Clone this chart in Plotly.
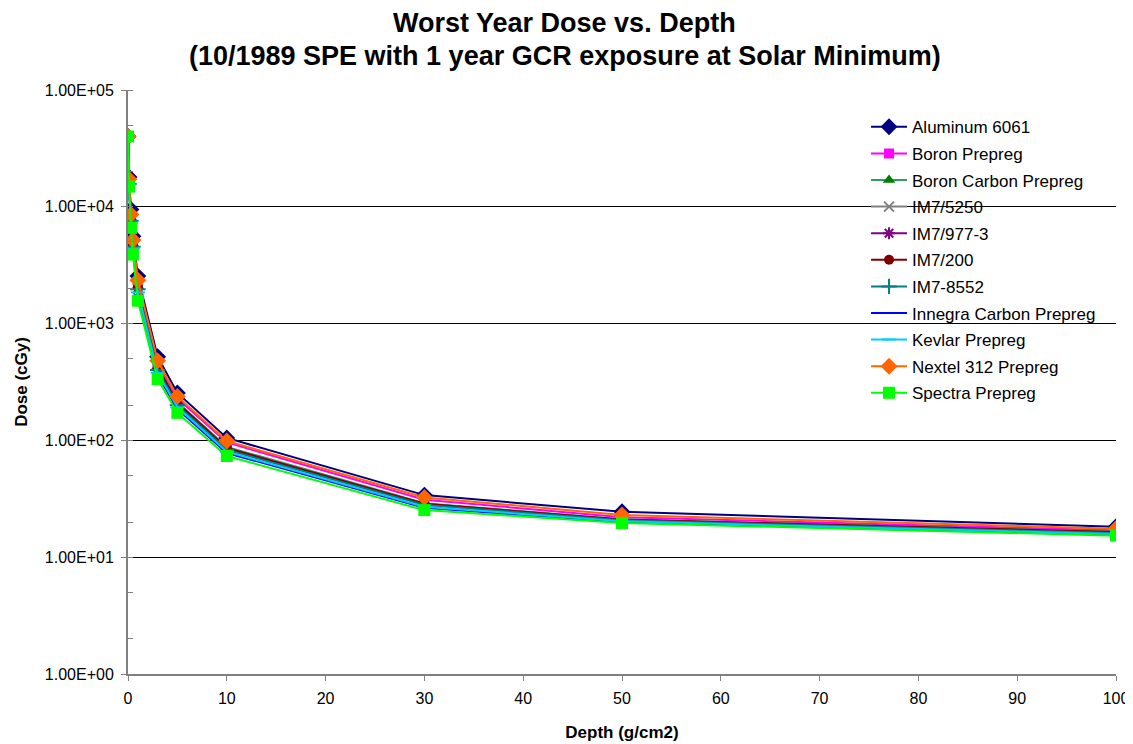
import plotly.graph_objects as go

depth = [0, 0.1, 0.3, 0.5, 1, 3, 5, 10, 30, 50, 100]

aluminum_6061 = [4.0e4, 1.8e4, 9.5e3, 5.6e3, 2.55e3, 520, 255, 105, 34, 24.5, 18.2]
boron_prepreg = [4.0e4, 1.65e4, 8.3e3, 5.0e3, 2.25e3, 460, 228, 96, 31, 22, 17]
boron_carbon_prepreg = [4.0e4, 1.6e4, 8.0e3, 4.8e3, 2.1e3, 430, 212, 88, 29, 21, 16.5]
im7_5250 = [4.0e4, 1.58e4, 7.7e3, 4.6e3, 2.0e3, 410, 205, 85, 28.5, 21, 16.3]
im7_977_3 = [4.0e4, 1.57e4, 7.6e3, 4.55e3, 1.98e3, 405, 203, 84, 28.2, 20.8, 16.2]
im7_200 = [4.0e4, 1.6e4, 7.9e3, 4.7e3, 2.05e3, 425, 210, 86, 28.7, 21, 16.4]
im7_8552 = [4.0e4, 1.57e4, 7.6e3, 4.55e3, 1.97e3, 400, 200, 83, 28, 20.7, 16.1]
innegra_carbon_prepreg = [4.0e4, 1.52e4, 7.0e3, 4.2e3, 1.75e3, 360, 185, 78, 26.5, 20, 15.6]
kevlar_prepreg = [4.0e4, 1.55e4, 7.3e3, 4.4e3, 1.85e3, 380, 192, 80, 27, 20.3, 15.8]
nextel_312_prepreg = [4.0e4, 1.72e4, 8.6e3, 5.2e3, 2.35e3, 480, 238, 99, 32.5, 23, 17.5]
spectra_prepreg = [4.0e4, 1.49e4, 6.6e3, 3.9e3, 1.57e3, 335, 172, 73.5, 25.3, 19.6, 15.3]

y_tick_vals = [1, 10, 100, 1000, 10000, 100000]
y_tick_text = ["1.00E+00", "1.00E+01", "1.00E+02", "1.00E+03", "1.00E+04", "1.00E+05"]

title_lines = [
    "Worst Year Dose vs. Depth",
    "(10/1989 SPE with 1 year GCR exposure at Solar Minimum)",
]

# name, values, line colour, marker colour, symbol, size
series = [
    ("Aluminum 6061", aluminum_6061, "#000080", "#000080", "diamond", 13),
    ("Boron Prepreg", boron_prepreg, "#FF00FF", "#FF00FF", "square", 10),
    ("Boron Carbon Prepreg", boron_carbon_prepreg, "#339966", "#008000", "triangle-up", 11),
    ("IM7/5250", im7_5250, "#808080", "#808080", "x-thin-open", 10),
    ("IM7/977-3", im7_977_3, "#800080", "#800080", "asterisk-open", 10),
    ("IM7/200", im7_200, "#800000", "#800000", "circle", 10),
    ("IM7-8552", im7_8552, "#008080", "#008080", "cross-thin-open", 11),
    ("Innegra Carbon Prepreg", innegra_carbon_prepreg, "#0000FF", "#0000FF", "line-ew-open", 6),
    ("Kevlar Prepreg", kevlar_prepreg, "#00CCFF", "#00CCFF", "line-ew-open", 10),
    ("Nextel 312 Prepreg", nextel_312_prepreg, "#FF6600", "#FF6600", "diamond", 13),
    ("Spectra Prepreg", spectra_prepreg, "#00FF00", "#00FF00", "square", 12),
]

fig = go.Figure()

for name, values, line_color, marker_color, symbol, size in series:
    marker = dict(symbol=symbol, size=size, color=marker_color)
    if symbol.endswith("-open"):
        marker["line"] = dict(color=marker_color, width=2)
    fig.add_trace(
        go.Scatter(
            x=depth,
            y=values,
            mode="lines+markers",
            name=name,
            legendgroup=name,
            line=dict(color=line_color, width=2),
            marker=marker,
        )
    )

font_family = "Liberation Sans, Arial, sans-serif"

# two title lines as annotations (paper y > 1 sits above the plot area)
for text, y_pos in zip(title_lines, [1.115, 1.059]):
    fig.add_annotation(
        text=f"<b>{text}</b>",
        xref="paper",
        yref="paper",
        x=0.442,
        y=y_pos,
        xanchor="center",
        yanchor="middle",
        showarrow=False,
        font=dict(family=font_family, size=27, color="black"),
    )

# page body has an 8px margin, so everything sits 8px right/down of the figure origin
fig.update_layout(
    width=1133,
    height=744,
    font=dict(family=font_family, size=16, color="black"),
    plot_bgcolor="white",
    paper_bgcolor="white",
    margin=dict(l=120, r=25, t=82, b=78),
    showlegend=True,
    legend=dict(
        x=0.747,
        y=0.967,
        xanchor="left",
        yanchor="top",
        bgcolor="rgba(255,255,255,0)",
        font=dict(family=font_family, size=17, color="black"),
        tracegroupgap=1.5,
        itemwidth=36,
    ),
    xaxis=dict(
        title=dict(text="<b>Depth (g/cm2)</b>", font=dict(size=17), standoff=20),
        range=[0, 100],
        tickvals=[0, 10, 20, 30, 40, 50, 60, 70, 80, 90, 100],
        ticks="outside",
        ticklen=5,
        tickcolor="#808080",
        ticklabelstandoff=4,
        showgrid=False,
        zeroline=False,
        showline=True,
        linecolor="#808080",
        linewidth=2,
        tickfont=dict(size=16),
    ),
    yaxis=dict(
        title=dict(text="<b>Dose (cGy)</b>", font=dict(size=17), standoff=13),
        type="log",
        range=[0, 5],
        tickvals=y_tick_vals,
        ticktext=y_tick_text,
        ticks="outside",
        ticklen=5,
        tickcolor="#808080",
        ticklabelstandoff=4,
        showgrid=True,
        gridcolor="black",
        gridwidth=1,
        zeroline=False,
        showline=True,
        linecolor="#808080",
        linewidth=2,
        tickfont=dict(size=16),
        minor=dict(ticks="inside", ticklen=5, tickcolor="#808080", showgrid=False),
    ),
)

fig.write_html("out.html")
